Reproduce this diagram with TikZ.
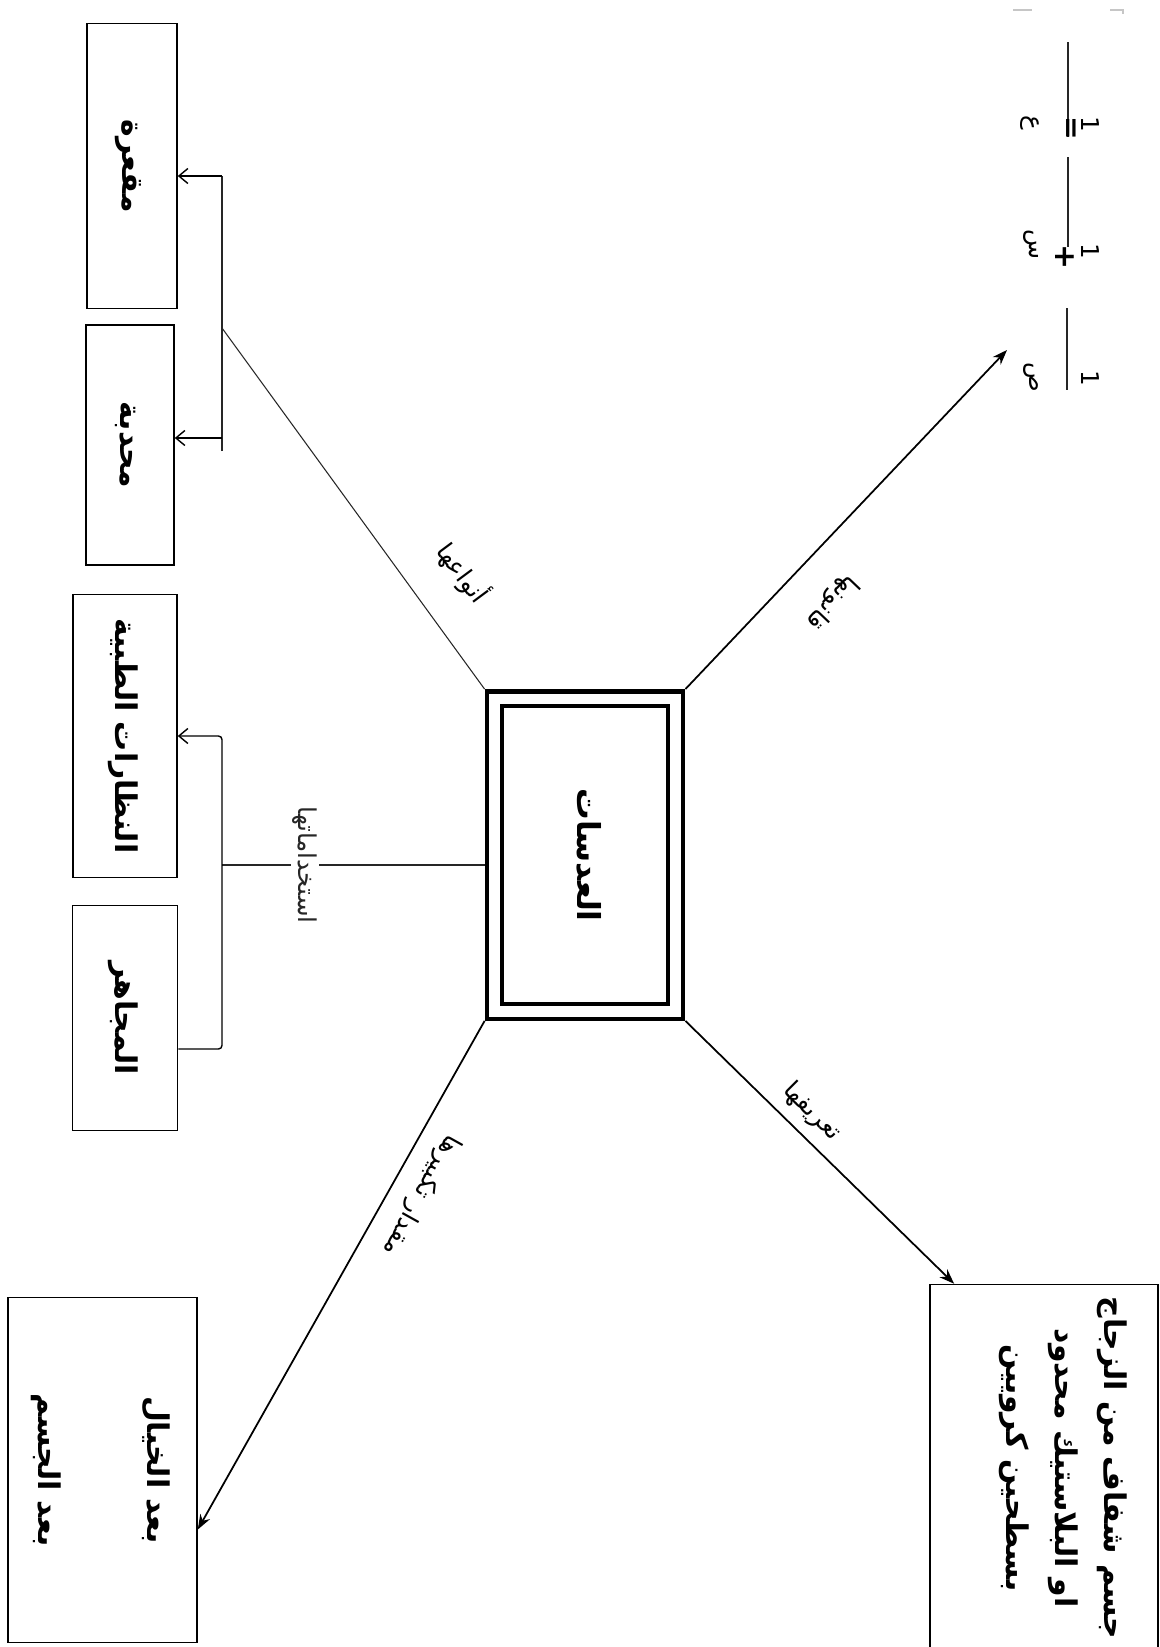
\documentclass[tikz,border=0pt]{standalone}
\usepackage{graphicx}
\usepackage{fontspec}
\usetikzlibrary{arrows.meta}
\newfontfamily\arabicfont[Script=Arabic]{DejaVu Sans}
\TeXXeTstate=1
\newcommand{\artxt}[1]{\beginR#1\endR}
\newcommand{\vt}[1]{\rotatebox{-90}{\begin{tabular}{@{}c@{}}#1\end{tabular}}}
\tikzset{
	cbox/.style={draw, line width=0.9pt, inner sep=0pt,
		font=\arabicfont\bfseries\fontsize{17}{28}\selectfont},
	lens/.style={draw, double, line width=2.5pt, double distance=6pt,
		inner sep=0pt, outer sep=5.5pt, minimum width=3.63cm, minimum height=6.25cm,
		font=\arabicfont\bfseries\fontsize{18}{20}\selectfont},
	lbl/.style={inner sep=1pt, font=\arabicfont\fontsize{14}{16}\selectfont},
	fsym/.style={inner sep=0pt, font=\arabicfont\fontsize{14}{16}\selectfont},
	link/.style={line width=0.6pt, black!85},
	arr/.style={-{Stealth[length=3mm, width=2.2mm]}, line width=1pt},
	barb/.style={-{Straight Barb[length=1.8mm, width=3mm]}, line width=0.8pt},
}
\begin{document}
\begin{tikzpicture}[x=0.02cm, y=-0.02cm]
	\fill[white] (0,0) rectangle (1160,1647);
	\useasboundingbox (0,0) rectangle (1160,1647);
	% centre
	\node[lens] (lens) at (585,855) {\vt{\artxt{العدسات}}};
	% boxes
	\node[cbox, minimum width=1.8cm, minimum height=5.7cm] (concave) at (132,166) {\vt{\artxt{مقعرة}}};
	\node[cbox, minimum width=1.76cm, minimum height=4.8cm] (convex) at (130,445) {\vt{\artxt{محدبة}}};
	\node[cbox, minimum width=2.08cm, minimum height=5.66cm] (glasses) at (125,736) {\vt{\artxt{النظارات الطبية}}};
	\node[cbox, minimum width=2.1cm, minimum height=4.5cm] (micro) at (125,1018) {\vt{\artxt{المجاهر}}};
	\node[cbox, minimum width=3.78cm, minimum height=6.9cm] (dist) at (102.5,1470)
		{\vt{\artxt{بعد الخيال}\\[34pt] \artxt{بعد الجسم}}};
	\node[cbox, minimum width=4.56cm, minimum height=7.34cm] (defn) at (1044,1468)
		{\rotatebox{-90}{\raisebox{12pt}[\height][\depth]{\begin{tabular}{@{}c@{}}\artxt{جسم شفاف من الزجاج}\\
		\artxt{او البلاستيك محدود}\\ \artxt{بسطحين كرويين}\end{tabular}}}};
	% types
	\coordinate (tTop) at (222,176);
	\coordinate (tMid) at (222,328);
	\coordinate (tLow) at (222,438);
	\coordinate (tEnd) at (222,451);
	\draw[link] (lens.north west) -- (tMid);
	\draw[link] (tEnd) -- (tTop);
	\draw[barb] (tTop) -- (concave.east |- tTop);
	\draw[barb] (tLow) -- (convex.east |- tLow);
	\node[lbl, rotate=-53.4] (lblTypes) at (463,573) {\artxt{أنواعها}};
	% uses
	\coordinate (uTop) at (222,736);
	\coordinate (uMid) at (222,865);
	\coordinate (uLow) at (222,1049);
	\draw[link] (lens.west |- uMid) -- node[lbl, fill=white, pos=0.684, rotate=-90] (lblUses) {\artxt{استخداماتها}} (uMid);
	\draw[barb, rounded corners=2pt] (micro.east |- uLow) -| (uTop) -- (glasses.east |- uTop);
	% magnification
	\draw[arr] (lens.south west) -- (dist.-32.4);
	\node[lbl, rotate=-119.1] (lblMag) at (421,1195) {\artxt{مقدار تكبيرها}};
	% definition
	\draw[arr] (lens.south east) -- (defn.116.7);
	\node[lbl, rotate=-45] (lblDef) at (812,1112) {\artxt{تعريفها}};
	% law
	\coordinate (fTip) at (1007,350);
	\draw[arr] (lens.north east) -- (fTip);
	\node[lbl, rotate=-133.6] (lblLaw) at (832,602) {\artxt{قانونها}};
	% formula
	\draw[link] (1068,42) -- (1068,137);
	\draw[link] (1068,157) -- (1068,247);
	\draw[link] (1067,308) -- (1067,390);
	\node[fsym] (one1) at (1090,124) {\rotatebox{-90}{1}};
	\node[fsym] (one2) at (1090,251) {\rotatebox{-90}{1}};
	\node[fsym] (one3) at (1090,378) {\rotatebox{-90}{1}};
	\node[fsym] (den1) at (1030,123) {\rotatebox{-90}{ع}};
	\node[fsym] (den2) at (1031,245) {\rotatebox{-90}{س}};
	\node[fsym] (den3) at (1031,377) {\rotatebox{-90}{ص}};
	\node[fsym, font=\arabicfont\bfseries\fontsize{16}{18}\selectfont] (eqs) at (1069,128) {\rotatebox{-90}{=}};
	\node[fsym, font=\arabicfont\bfseries\fontsize{17}{18}\selectfont] (plus) at (1065,257) {\rotatebox{-90}{+}};
	\draw[gray!45, line width=0.6pt] (1013,10) -- (1032,10);
	\draw[gray!45, line width=0.6pt] (1110,10) -- (1123,10) -- (1123,14);
\end{tikzpicture}
\end{document}
